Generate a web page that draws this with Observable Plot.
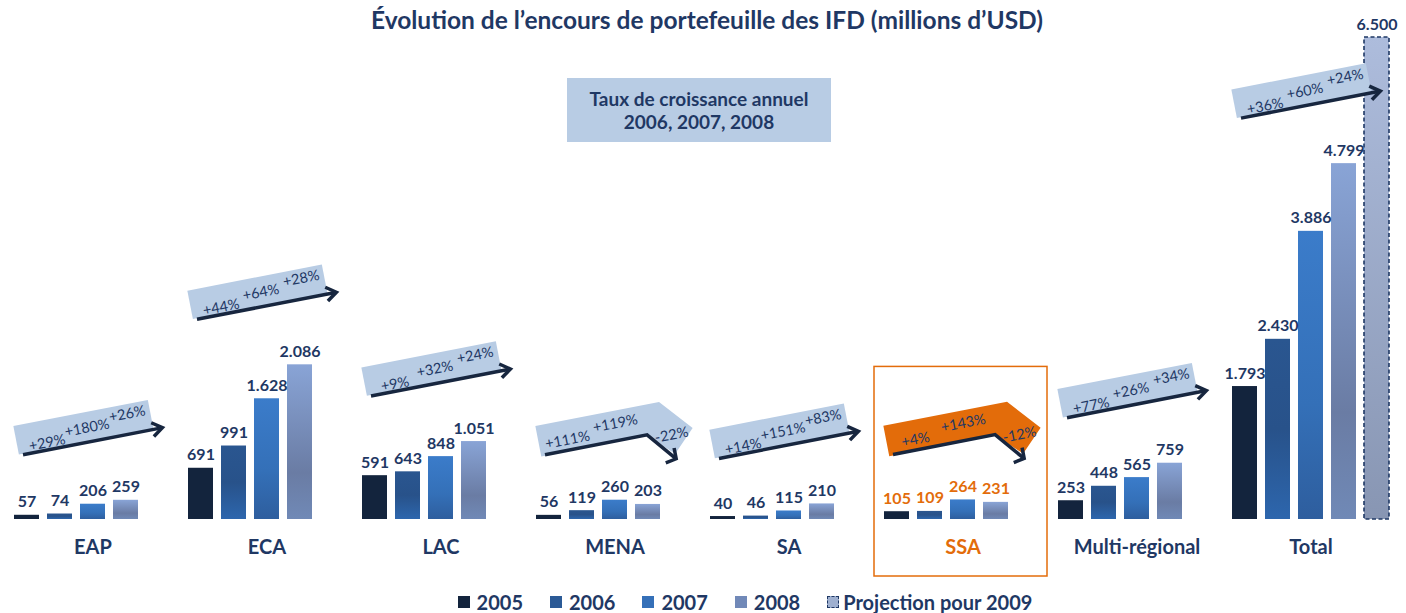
<!DOCTYPE html>
<html><head><meta charset="utf-8">
<script src="https://cdn.jsdelivr.net/npm/d3@7"></script>
<script src="https://cdn.jsdelivr.net/npm/@observablehq/plot@0.6"></script>
<style>
body{margin:0;background:#fff;font-family:Lato,"Open Sans",sans-serif;}
#wrap{position:relative;width:1406px;height:613px;overflow:hidden;}
#chart{position:absolute;top:0;left:0;}
#title{position:absolute;top:6px;left:0;width:1414px;text-align:center;font-weight:700;font-size:24.5px;line-height:28px;color:#1f3864;}
#note{position:absolute;left:567px;top:78px;width:264px;height:64px;background:#b8cce4;display:flex;align-items:center;justify-content:center;text-align:center;font-weight:700;font-size:19px;line-height:23px;color:#1f3864;}
#legend{position:absolute;top:590px;left:0;width:1406px;box-sizing:border-box;padding-left:84px;display:flex;justify-content:center;align-items:center;gap:27px;font-weight:700;font-size:20px;line-height:24px;color:#1f3864;}
#legend .it{display:flex;align-items:center;}
#legend .sw{width:12px;height:12px;margin-right:7px;box-sizing:border-box;}
</style>
</head><body>
<div id="wrap">
  <div id="chart"></div>
  <div id="title">Évolution de l’encours de portefeuille des IFD (millions d’USD)</div>
  <div id="note"><div>Taux de croissance annuel<br>2006, 2007, 2008</div></div>
  <div id="legend"></div>
</div>
<script>
// ---- data ----
const regions = ["EAP", "ECA", "LAC", "MENA", "SA", "SSA", "Multi-régional", "Total"];
const years = ["2005", "2006", "2007", "2008", "2009"];
const v2005 = [57, 691, 591, 56, 40, 105, 253, 1793];
const v2006 = [74, 991, 643, 119, 46, 109, 448, 2430];
const v2007 = [206, 1628, 848, 260, 115, 264, 565, 3886];
const v2008 = [259, 2086, 1051, 203, 210, 231, 759, 4799];
const projection2009 = {"Total": 6500};
const g2006 = ["+29%", "+44%", "+9%", "+111%", "+14%", "+4%", "+77%", "+36%"];
const g2007 = ["+180%", "+64%", "+32%", "+119%", "+151%", "+143%", "+26%", "+60%"];
const g2008 = ["+26%", "+28%", "+24%", "-22%", "+83%", "-12%", "+34%", "+24%"];
const legendLabels = ["2005", "2006", "2007", "2008", "Projection pour 2009"];
const highlight = "SSA";

// ---- table ----
const rows = [];
regions.forEach((r, i) => {
  [v2005, v2006, v2007, v2008].forEach((arr, j) => rows.push({region: r, year: years[j], value: arr[i]}));
  if (projection2009[r] != null) rows.push({region: r, year: "2009", value: projection2009[r]});
});

const NAVY = "#1f3864", ORANGE = "#e36c0a";
const fmt = d3.formatLocale({decimal: ",", thousands: ".", grouping: [3], currency: ["", ""]}).format(",d");

const plot = Plot.plot({
  width: 1406, height: 588,
  marginTop: 37, marginBottom: 69, marginLeft: 5, marginRight: 8,
  fx: {domain: regions, paddingInner: 0.027, paddingOuter: 0, axis: null, label: null},
  x: {domain: years, paddingInner: 0.24, paddingOuter: 0.12, axis: null, label: null},
  y: {domain: [0, 6500], axis: null, label: null},
  style: {fontFamily: "Lato, sans-serif", background: "transparent", overflow: "visible"},
  marks: [
    ...years.map(yr => Plot.barY(rows.filter(d => d.year === yr), {
      fx: "region", x: "year", y: "value",
      fill: `url(#grad${yr})`,
      stroke: yr === "2009" ? NAVY : "none",
      strokeWidth: 1.6, strokeDasharray: yr === "2009" ? "4,2.5" : null
    })),
    Plot.text(rows.filter(d => d.region !== highlight), {
      fx: "region", x: "year", y: "value", text: d => fmt(d.value),
      lineAnchor: "bottom", dy: -8, fontSize: 16, fontWeight: 700, fill: NAVY
    }),
    Plot.text(rows.filter(d => d.region === highlight), {
      fx: "region", x: "year", y: "value", text: d => fmt(d.value),
      lineAnchor: "bottom", dy: -8, fontSize: 16, fontWeight: 700, fill: ORANGE
    }),
    Plot.text(regions, {
      fx: d => d, text: d => d, frameAnchor: "bottom", dy: 34,
      fontSize: 20, fontWeight: 700, fill: d => d === highlight ? ORANGE : NAVY
    })
  ]
});
document.getElementById("chart").appendChild(plot);

// ---- gradients ----
const svg = d3.select(plot);
const defs = svg.insert("defs", ":first-child");
const grads = {
  "2005": [["0%", "#13243d"], ["100%", "#13243d"]],
  "2006": [["0%", "#2a5690"], ["50%", "#28528a"], ["100%", "#2d66ad"]],
  "2007": [["0%", "#3b7cca"], ["60%", "#3470b8"], ["100%", "#2e5e9e"]],
  "2008": [["0%", "#89a4d6"], ["70%", "#6a7ca4"], ["100%", "#7089b6"]],
  "2009": [["0%", "#adbcdc"], ["100%", "#8896b3"]]
};
Object.entries(grads).forEach(([k, stops]) => {
  const g = defs.append("linearGradient").attr("id", "grad" + k).attr("x1", 0).attr("y1", 0).attr("x2", 0).attr("y2", 1);
  stops.forEach(([o, c]) => g.append("stop").attr("offset", o).attr("stop-color", c));
});

// ---- growth arrows & highlight, positioned through Plot's scales ----
const fxS = plot.scale("fx"), yS = plot.scale("y");
const deco = svg.append("g");
const ARROW = "#17263f", BOX = "#b8cce4";
regions.forEach((r, i) => {
  const gx = fxS.apply(r), bw = fxS.bandwidth;
  const maxV = Math.max(v2005[i], v2006[i], v2007[i], v2008[i]);
  const top = yS.apply(maxV);
  const isHL = r === highlight;
  if (isHL) {
    deco.append("rect").attr("x", gx - 4).attr("y", top - 133).attr("width", bw + 4)
      .attr("height", 576 - (top - 133)).attr("fill", "none").attr("stroke", ORANGE).attr("stroke-width", 1.5);
  }
  const bent = g2008[i].startsWith("-");
  const g = deco.append("g").attr("transform", `translate(${gx + 15},${top - 45}) rotate(-11)`);
  const fillC = isHL ? ORANGE : BOX;
  let labelPos;
  if (!bent) {
    g.append("polygon").attr("points", "-4,-1 133,-1 133,-30 -4,-30").attr("fill", fillC);
    g.append("path").attr("d", "M0,0 L141,0").attr("stroke", ARROW).attr("stroke-width", 3.5).attr("fill", "none");
    g.append("path").attr("d", "M132,-7 L142,0 L132,7").attr("stroke", ARROW).attr("stroke-width", 3.5).attr("fill", "none");
    labelPos = [[26, -8], [68, -15], [110, -21]];
  } else {
    g.append("polygon").attr("points", "-4,1 104,1 128,24 150,2 122,-30 -4,-30").attr("fill", fillC);
    g.append("path").attr("d", "M0,0 L104,0 L127,28").attr("stroke", ARROW).attr("stroke-width", 3.5).attr("fill", "none").attr("stroke-linejoin", "miter");
    g.append("path").attr("d", "M128,18 L128,29 L117,31").attr("stroke", ARROW).attr("stroke-width", 3.5).attr("fill", "none");
    labelPos = [[25, -11], [75, -18], [128, 4]];
  }
  [g2006[i], g2007[i], g2008[i]].forEach((t, k) => {
    g.append("text").attr("x", labelPos[k][0]).attr("y", labelPos[k][1])
      .attr("text-anchor", "middle").attr("dominant-baseline", "central")
      .attr("font-size", 14.5).attr("font-family", "Lato, sans-serif").attr("fill", NAVY).text(t);
  });
});

// ---- legend ----
const swatch = ["#13243d", "#2b5a96", "#3570b8", "#7189b8", "#9fb0d0"];
const leg = document.getElementById("legend");
legendLabels.forEach((l, i) => {
  const it = document.createElement("div"); it.className = "it";
  const sw = document.createElement("div"); sw.className = "sw"; sw.style.background = swatch[i];
  if (i === 4) { sw.style.border = "1.5px dashed " + NAVY; sw.style.marginRight = "4px"; }
  const tx = document.createElement("span"); tx.textContent = l;
  it.appendChild(sw); it.appendChild(tx); leg.appendChild(it);
});
</script>
</body></html>
